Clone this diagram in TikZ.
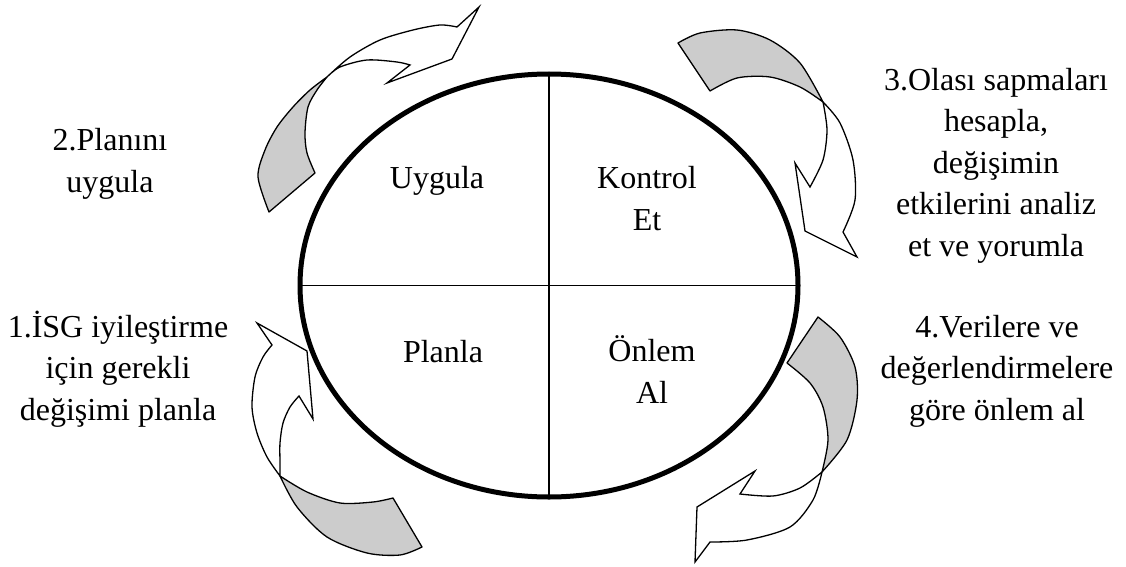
\documentclass[tikz,border=0pt]{standalone}
\usepackage{fontspec}
\setmainfont{Liberation Serif}
\usetikzlibrary{shapes.geometric}
\definecolor{ribbongray}{RGB}{204,204,204}
\tikzset{
  ribbonback/.style={fill=ribbongray, draw=black, line width=1.3pt, line join=round},
  ribbonfront/.style={fill=white, draw=black, line width=1.3pt, line join=miter},
  wheelstyle/.style={ellipse, draw=black, line width=5pt, minimum width=498pt, minimum height=423pt, inner sep=0pt, outer sep=0pt},
  divider/.style={draw=black, line width=1.8pt},
  txt/.style={font=\fontsize{32}{41.5}\selectfont, align=center, inner sep=0pt, anchor=base}
}
\begin{document}
\begin{tikzpicture}[x=1pt,y=-1pt]
\useasboundingbox (0,0) rectangle (1126,567);

% central wheel
\node[wheelstyle] (wheel) at (549,285.5) {};
\draw[divider] ([yshift=2pt]wheel.north) -- ([yshift=-2pt]wheel.south);
\draw[divider] (wheel.west) -- (wheel.east);

% labels inside (anchor = baseline of last line)
\node[txt] (uyg) at (437,188) {Uygula};
\node[txt] (kon) at (647,230) {Kontrol\\Et};
\node[txt] (pla) at (443,362) {Planla};
\node[txt] (onl) at (652,403) {Önlem\\Al};

% outer texts
\node[txt] (t2) at (110,192) {2.Planını\\uygula};
\node[txt] (t1) at (118,420) {1.İSG iyileştirme\\için gerekli\\değişimi planla};
\node[txt] (t3) at (996,256) {3.Olası sapmaları\\hesapla,\\değişimin\\etkilerini analiz\\et ve yorumla};
\node[txt] (t4) at (997,420) {4.Verilere ve\\değerlendirmelere\\göre önlem al};

% ribbon 2 (top-left)
\path[ribbonback] plot[smooth] coordinates {(269,212) (258,177) (265,150) (277,127) (293,107) (310,90) (327,77)}
  -- plot[smooth] coordinates {(327,77) (317,90) (308,107) (305,133) (307,153) (315,173)} -- cycle;
\path[ribbonfront] plot[smooth] coordinates {(327,77) (350,57) (380,40) (413,30) (440,25) (457,27)}
  -- (479,7) -- (452,59) -- (387,83) -- (410,65)
  -- plot[smooth] coordinates {(410,65) (397,62) (367,60) (340,67) (327,77)} -- cycle;

% ribbon 3 (top-right)
\path[ribbonback] plot[smooth] coordinates {(678,43) (700,33) (737,30) (770,40) (800,63) (823,102)}
  -- plot[smooth] coordinates {(823,102) (800,87) (770,77) (737,78) (710,91)} -- cycle;
\path[ribbonfront] plot[smooth] coordinates {(823,102) (840,123) (853,160) (855,200) (843,232)}
  -- (857,257) -- (805,231) -- (795,163) -- (810,187)
  -- plot[smooth] coordinates {(810,187) (823,160) (827,130) (823,102)} -- cycle;

% ribbon 1 (bottom-left)
\path[ribbonback] plot[smooth] coordinates {(393,498) (373,502) (340,503) (307,492) (280,476)}
  -- plot[smooth] coordinates {(280,476) (297,507) (327,537) (367,553) (400,555) (422,547)} -- cycle;
\path[ribbonfront] plot[smooth] coordinates {(280,476) (267,457) (257,433) (252,407) (255,377) (263,357) (272,345)}
  -- (257,323) -- (307,351) -- (313,419) -- (299,396)
  -- plot[smooth] coordinates {(299,396) (290,407) (283,423) (280,443) (280,463) (280,476)} -- cycle;

% ribbon 4 (bottom-right)
\path[ribbonback] plot[smooth] coordinates {(818,317) (840,337) (855,367) (857,400) (847,440) (822,472)}
  -- plot[smooth] coordinates {(822,472) (828,440) (823,407) (810,383) (787,363)} -- cycle;
\path[ribbonfront] plot[smooth] coordinates {(822,472) (813,500) (790,527) (747,540) (710,542)}
  -- (695,562) -- (697,507) -- (755,471) -- (740,494)
  -- plot[smooth] coordinates {(740,494) (773,496) (800,488) (822,472)} -- cycle;
\end{tikzpicture}
\end{document}
